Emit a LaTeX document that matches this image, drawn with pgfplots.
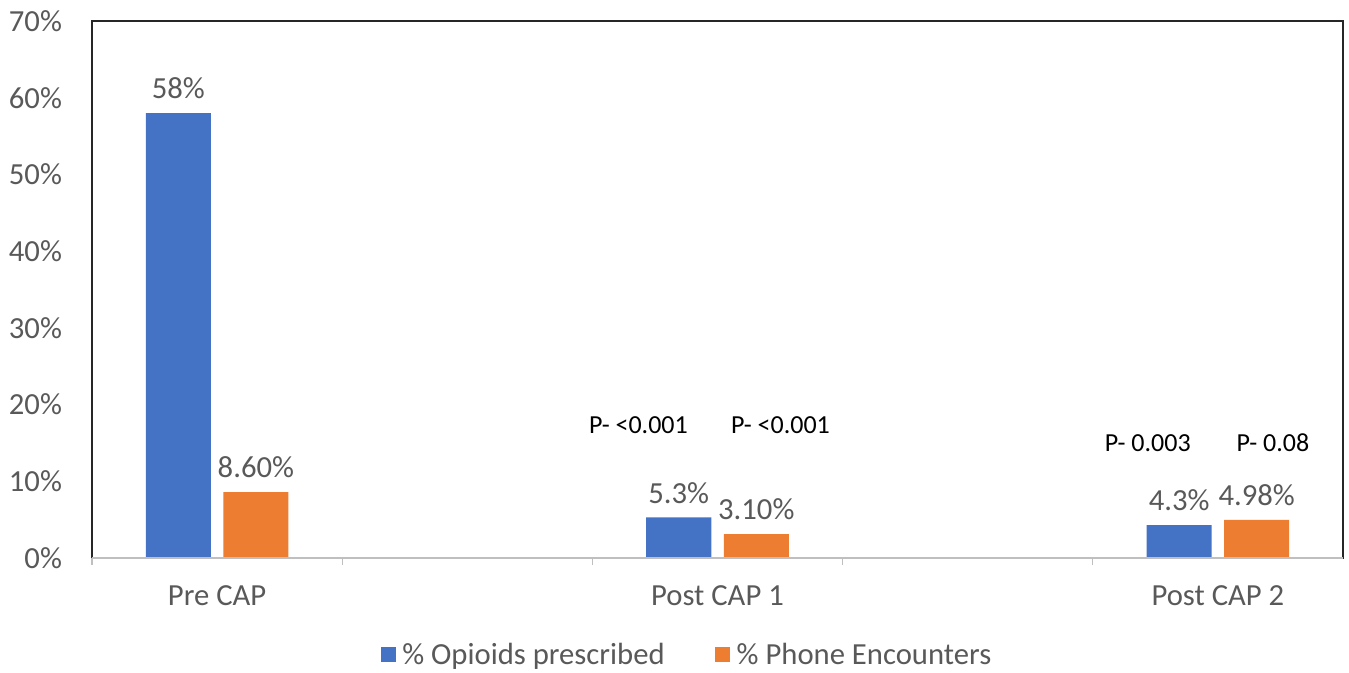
\documentclass[border=0pt]{standalone}
\usepackage{pgfplots}
\pgfplotsset{compat=1.18}
\usepackage{fontspec}
\setmainfont{Carlito}
\definecolor{barblue}{HTML}{4472C4}
\definecolor{barorange}{HTML}{ED7D31}
\definecolor{txtgray}{HTML}{595959}
\definecolor{axgray}{HTML}{BFBFBF}
\begin{document}
\begin{tikzpicture}
\begin{axis}[
  at={(0,0)}, anchor=south west,
  scale only axis,
  width=938.25pt, height=402.75pt,
  xmin=-0.5, xmax=4.5, ymin=0, ymax=70,
  clip=false,
  axis line style={black!85, line width=1.4pt},
  ytick={0,10,...,70},
  yticklabels={0\%,10\%,20\%,30\%,40\%,50\%,60\%,70\%},
  xtick={0,2,4},
  xticklabels={Pre CAP,Post CAP 1,Post CAP 2},
  xtick pos=bottom, ytick pos=left,
  major tick length=0pt,
  extra x ticks={-0.5,0.5,1.5,2.5,3.5},
  extra x tick labels={},
  extra x tick style={major tick length=5pt, tick align=outside, xtick pos=bottom, tick style={axgray, line width=1pt}},
  ticklabel style={font=\fontsize{23}{27}\selectfont, text=txtgray},
  yticklabel style={xshift=-19pt},
  xticklabel style={yshift=-17pt},
  ybar, bar width=0.26,
  nodes near coords,
  point meta=explicit symbolic,
  every node near coord/.append style={font=\fontsize{23}{27}\selectfont, text=txtgray, yshift=7pt},
  legend style={at={(0.476,-0.18)}, anchor=center, draw=none, legend columns=2,
    font=\fontsize{23}{27}\selectfont, text=txtgray, /tikz/every even column/.append style={column sep=36pt}},
  legend image code/.code={\fill[#1] (0pt,-5.5pt) rectangle (11pt,5.5pt); \path (14pt,0pt);},
]
\addplot[fill=barblue, draw=none, bar shift=-0.155] coordinates {(0,58) [58\%] (2,5.3) [5.3\%] (4,4.3) [4.3\%]};
\addplot[fill=barorange, draw=none, bar shift=0.155] coordinates {(0,8.6) [8.60\%] (2,3.1) [3.10\%] (4,4.98) [4.98\%]};
\legend{\% Opioids prescribed, \% Phone Encounters}
\draw[axgray, line width=2pt] (rel axis cs:0,0) -- (rel axis cs:1,0);
\node[font=\fontsize{19.5}{23}\selectfont] at (axis cs:1.684,17.34) {P- <0.001};
\node[font=\fontsize{19.5}{23}\selectfont] at (axis cs:2.252,17.34) {P- <0.001};
\node[font=\fontsize{19.5}{23}\selectfont] at (axis cs:3.72,15.0) {P- 0.003};
\node[font=\fontsize{19.5}{23}\selectfont] at (axis cs:4.22,15.0) {P- 0.08};
\end{axis}
\path[use as bounding box] (-69pt,-86.25pt) rectangle (942.75pt,418.5pt);
\end{tikzpicture}
\end{document}
